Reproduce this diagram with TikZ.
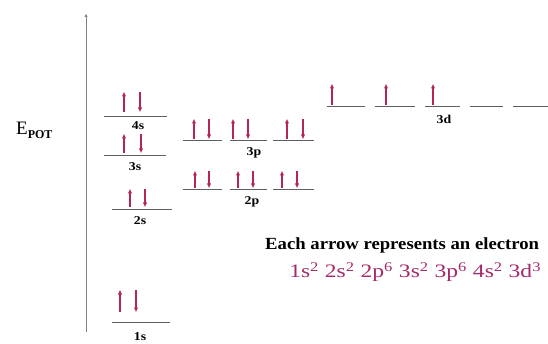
\documentclass[tikz,border=0pt]{standalone}
\usepackage{fontspec}
\setmainfont{Liberation Serif}
\usetikzlibrary{arrows.meta}
\definecolor{spin}{RGB}{178,38,88}
\definecolor{config}{RGB}{165,40,105}
\definecolor{levelgray}{RGB}{95,95,95}

% orbital line: x-start, x-end, y
\newcommand{\orbline}[3]{\draw[level] (#1,#3) -- (#2,#3);}
% electron with spin up / down: x, top, bottom
\newcommand{\eup}[3]{\draw[electron] (#1,#3) -- (#1,#2);}
\newcommand{\edn}[3]{\draw[electron] (#1,#2) -- (#1,#3);}

\begin{document}
\begin{tikzpicture}[x=1pt,y=-1pt,
  level/.style={draw=levelgray, line width=0.9pt},
  electron/.style={draw=spin, line width=1.2pt, -{Triangle[length=4.5pt,width=3.6pt]}},
  sublabel/.style={font=\bfseries\fontsize{12}{12}\selectfont, inner sep=0pt, xscale=1.15},
]
\useasboundingbox (0,0) rectangle (548,344);

% energy axis
\coordinate (axbot) at (86,332);
\coordinate (axtop) at (86,14);
\draw[draw=gray, line width=1pt, -{Triangle[length=3pt,width=3pt]}] (axbot) -- (axtop);
\node[anchor=west, inner sep=0pt] (epot) at (16,130)
  {\fontsize{19}{19}\selectfont E\raisebox{-4pt}{\bfseries\fontsize{12}{12}\selectfont POT}};

% 1s
\orbline{112}{170}{322}
\eup{120}{290}{312} \edn{136}{290}{312}
\node[sublabel] (l1s) at (140,337) {1s};

% 2s
\orbline{112}{172}{209}
\eup{130}{189}{207} \edn{145}{189}{207}
\node[sublabel] (l2s) at (140,221) {2s};

% 3s
\orbline{104}{166}{155}
\eup{124}{134}{153} \edn{141}{134}{153}
\node[sublabel] (l3s) at (135,167) {3s};

% 4s
\orbline{104}{167}{116}
\eup{124}{92}{112} \edn{140}{92}{112}
\node[sublabel] (l4s) at (138,126) {4s};

% 2p
\orbline{183}{222}{189} \orbline{230}{267}{189} \orbline{273}{314}{189}
\eup{195}{171}{188} \edn{209}{171}{188}
\eup{238}{171}{188} \edn{253}{171}{188}
\eup{282}{171}{188} \edn{297}{171}{188}
\node[sublabel] (l2p) at (252,202) {2p};

% 3p
\orbline{183}{222}{140} \orbline{230}{267}{140} \orbline{273}{314}{140}
\eup{194}{119}{139} \edn{209}{119}{139}
\eup{233}{119}{139} \edn{248}{119}{139}
\eup{287}{119}{139} \edn{303}{119}{139}
\node[sublabel] (l3p) at (254,153) {3p};

% 3d
\orbline{327}{365}{106} \orbline{375}{415}{106} \orbline{425}{460}{106}
\orbline{470}{503}{106} \orbline{513}{548}{106}
\eup{332}{84}{105} \eup{386}{84}{105} \eup{433}{84}{105}
\node[sublabel] (l3d) at (444,119) {3d};

% legend and configuration
\node[anchor=west, inner sep=0pt, font=\bfseries\fontsize{17}{17}\selectfont, xscale=1.1] (note) at (265,245)
  {Each arrow represents an electron};
\node[anchor=west, inner sep=0pt, text=config, font=\fontsize{19}{19}\selectfont, xscale=1.24] (conf) at (289,272)
  {1s\textsuperscript{2} 2s\textsuperscript{2} 2p\textsuperscript{6} 3s\textsuperscript{2} 3p\textsuperscript{6} 4s\textsuperscript{2} 3d\textsuperscript{3}};
\end{tikzpicture}
\end{document}
